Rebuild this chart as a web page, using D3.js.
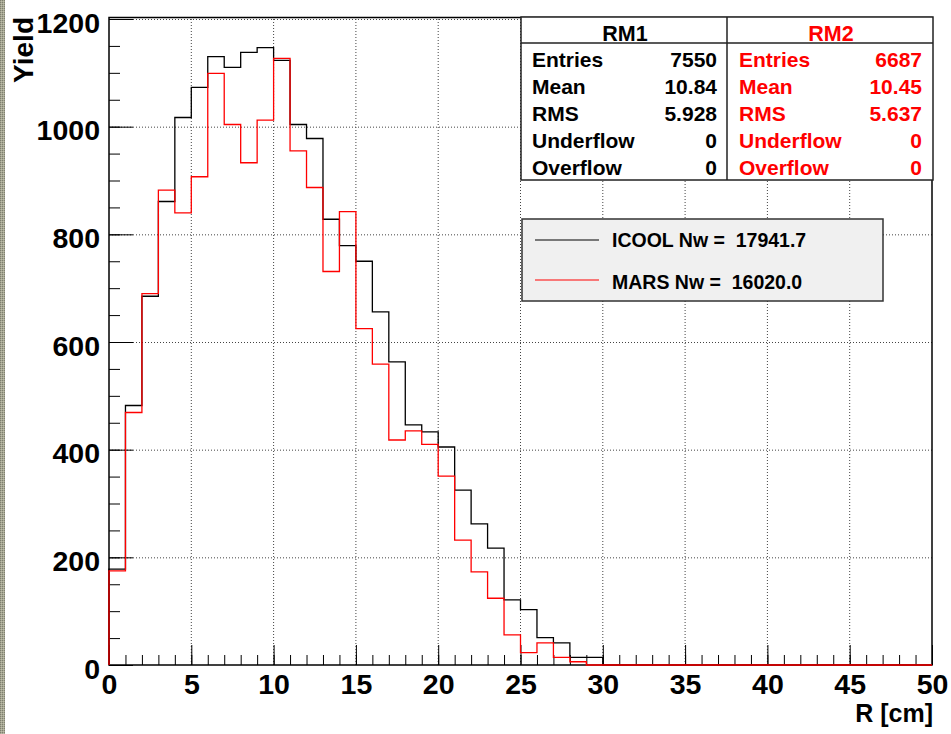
<!DOCTYPE html>
<html>
<head>
<meta charset="utf-8">
<script src="https://cdn.jsdelivr.net/npm/d3@7"></script>
<style>
  body { margin: 0; background: #fff; }
  svg { display: block; font-family: "Liberation Sans", Arial, Helvetica, sans-serif; font-weight: bold; }
</style>
</head>
<body>
<div class="chart"></div>
<script>
// counts per 1 cm bin, R = 0..50
const icoolYield = [178, 482, 685, 861, 1017, 1073, 1130, 1110, 1138, 1147,
  1123, 1004, 978, 828, 779, 750, 656, 563, 446, 433,
  405, 325, 262, 217, 121, 103, 51, 41, 14, 14,
  0, 0, 0, 0, 0, 0, 0, 0, 0, 0,
  0, 0, 0, 0, 0, 0, 0, 0, 0, 0];
const marsYield = [175, 469, 690, 882, 840, 907, 1099, 1004, 933, 1012,
  1127, 955, 887, 731, 842, 625, 559, 418, 435, 410,
  351, 232, 173, 124, 56, 23, 41, 14, 6, 0,
  0, 0, 0, 0, 0, 0, 0, 0, 0, 0,
  0, 0, 0, 0, 0, 0, 0, 0, 0, 0];
const xTicks = [0, 5, 10, 15, 20, 25, 30, 35, 40, 45, 50];
const yTicks = [0, 200, 400, 600, 800, 1000, 1200];
const statNames = ['Entries', 'Mean', 'RMS', 'Underflow', 'Overflow'];
const rm1Stats = ['7550', '10.84', '5.928', '0', '0'];
const rm2Stats = ['6687', '10.45', '5.637', '0', '0'];
const legendLabels = ['ICOOL Nw =  17941.7', 'MARS Nw =  16020.0'];
const seriesColors = ['#000', '#ff0000'];

function drawChart() {
  const w = 951;
  const h = 734;
  const svg = d3.select('.chart')
    .append('svg')
    .attr('width', w)
    .attr('height', h);

  // textured strip on the left edge
  const pat = svg.append('defs').append('pattern')
    .attr('id', 'strip')
    .attr('width', 2)
    .attr('height', 2)
    .attr('patternUnits', 'userSpaceOnUse');
  pat.append('rect').attr('width', 2).attr('height', 2).attr('fill', '#a6a692');
  pat.append('rect').attr('width', 1).attr('height', 1).attr('fill', '#7f8070');
  pat.append('rect').attr('x', 1).attr('y', 1).attr('width', 1).attr('height', 1).attr('fill', '#bdbdaa');
  svg.append('rect').attr('width', 5).attr('height', h).attr('fill', 'url(#strip)');

  const x = d3.scaleLinear().domain([0, 50]).range([109, 932]);
  const y = d3.scaleLinear().domain([0, 1200]).range([665, 19]);

  // grid
  svg.append('g')
    .selectAll('line')
    .data(xTicks.slice(1, -1))
    .enter()
    .append('line')
    .attr('x1', d => x(d)).attr('x2', d => x(d))
    .attr('y1', y(0)).attr('y2', y(1200))
    .attr('stroke', '#444')
    .attr('stroke-dasharray', '1,2');
  svg.append('g')
    .selectAll('line')
    .data(yTicks.slice(1))
    .enter()
    .append('line')
    .attr('x1', x(0)).attr('x2', x(50))
    .attr('y1', d => y(d) + 0.5).attr('y2', d => y(d) + 0.5)
    .attr('stroke', '#444')
    .attr('stroke-dasharray', '1,2');

  // minor ticks
  svg.append('g')
    .attr('transform', `translate(0, ${y(0)})`)
    .call(d3.axisBottom(x).tickValues(d3.range(0, 51)).tickSize(-10).tickFormat(''))
    .call(g => g.select('.domain').remove());
  svg.append('g')
    .attr('transform', `translate(${x(0)}, 0)`)
    .call(d3.axisLeft(y).tickValues(d3.range(0, 1201, 50)).tickSize(-11).tickFormat(''))
    .call(g => g.select('.domain').remove());

  // major ticks + labels
  svg.append('g')
    .attr('class', 'x-axis')
    .attr('transform', `translate(0, ${y(0)})`)
    .call(d3.axisBottom(x).tickValues(xTicks).tickSize(-20).tickPadding(9).tickFormat(d3.format('d')))
    .call(g => g.select('.domain').remove());
  svg.append('g')
    .attr('class', 'y-axis')
    .attr('transform', `translate(${x(0)}, 0)`)
    .call(d3.axisLeft(y).tickValues(yTicks).tickSize(-24).tickPadding(9).tickFormat(d3.format('d')))
    .call(g => g.select('.domain').remove())
    .call(g => g.selectAll('text').attr('dy', 13));
  svg.selectAll('.tick text')
    .attr('font-family', null)
    .attr('font-size', 28.5)
    .attr('fill', '#000');
  svg.selectAll('.tick line').attr('stroke', '#000');

  // frame
  svg.append('rect')
    .attr('x', x(0)).attr('y', y(1200) - 1.5)
    .attr('width', x(50) - x(0)).attr('height', y(0) - y(1200) + 1.5)
    .attr('fill', 'none')
    .attr('stroke', '#000')
    .attr('stroke-width', 1.5);

  // histograms
  const line = d3.line()
    .x(d => x(d[0]))
    .y(d => y(d[1]))
    .curve(d3.curveStepAfter);
  [icoolYield, marsYield].forEach((vals, k) => {
    const pts = [[0, 0]].concat(vals.map((v, i) => [i, v]), [[50, vals[49]], [50, 0]]);
    svg.append('path')
      .datum(pts)
      .attr('d', line)
      .attr('fill', 'none')
      .attr('stroke', seriesColors[k])
      .attr('stroke-width', 1.3);
  });

  // axis titles
  svg.append('text')
    .attr('transform', 'translate(33, 17) rotate(-90)')
    .attr('text-anchor', 'end')
    .attr('font-size', 28)
    .text('Yield');
  svg.append('text')
    .attr('x', 933).attr('y', 722)
    .attr('text-anchor', 'end')
    .attr('font-size', 25)
    .text('R [cm]');

  // stats boxes
  const stats = svg.append('g');
  stats.append('rect')
    .attr('x', 521).attr('y', 17)
    .attr('width', 412).attr('height', 163)
    .attr('fill', '#fff')
    .attr('stroke', '#222')
    .attr('stroke-width', 1.5);
  stats.append('line').attr('x1', 521).attr('x2', 933).attr('y1', 43).attr('y2', 43)
    .attr('stroke', '#222').attr('stroke-width', 1.5);
  stats.append('line').attr('x1', 727).attr('x2', 727).attr('y1', 17).attr('y2', 180)
    .attr('stroke', '#222').attr('stroke-width', 1.5);

  const boxes = [
    { title: 'RM1', vals: rm1Stats, color: '#000', cx: 625, left: 532, right: 717 },
    { title: 'RM2', vals: rm2Stats, color: '#ff0000', cx: 831, left: 739, right: 922 }
  ];
  boxes.forEach(b => {
    stats.append('text')
      .attr('x', b.cx).attr('y', 41)
      .attr('text-anchor', 'middle')
      .attr('font-size', 21.5)
      .attr('fill', b.color)
      .text(b.title);
    statNames.forEach((name, i) => {
      stats.append('text')
        .attr('x', b.left).attr('y', 67 + i * 27)
        .attr('font-size', 21)
        .attr('fill', b.color)
        .text(name);
      stats.append('text')
        .attr('x', b.right).attr('y', 67 + i * 27)
        .attr('text-anchor', 'end')
        .attr('font-size', 21)
        .attr('fill', b.color)
        .text(b.vals[i]);
    });
  });

  // legend
  const legend = svg.append('g');
  legend.append('rect')
    .attr('x', 522).attr('y', 219)
    .attr('width', 361).attr('height', 82)
    .attr('fill', '#f0f0f0')
    .attr('stroke', '#333')
    .attr('stroke-width', 1.5);
  legendLabels.forEach((label, i) => {
    legend.append('line')
      .attr('x1', 535).attr('x2', 599)
      .attr('y1', 240 + i * 40).attr('y2', 240 + i * 40)
      .attr('stroke', seriesColors[i]);
    legend.append('text')
      .attr('x', 612).attr('y', 247 + i * 42)
      .attr('font-size', 19.5)
      .style('white-space', 'pre')
      .text(label);
  });
}

drawChart();
</script>
</body>
</html>
